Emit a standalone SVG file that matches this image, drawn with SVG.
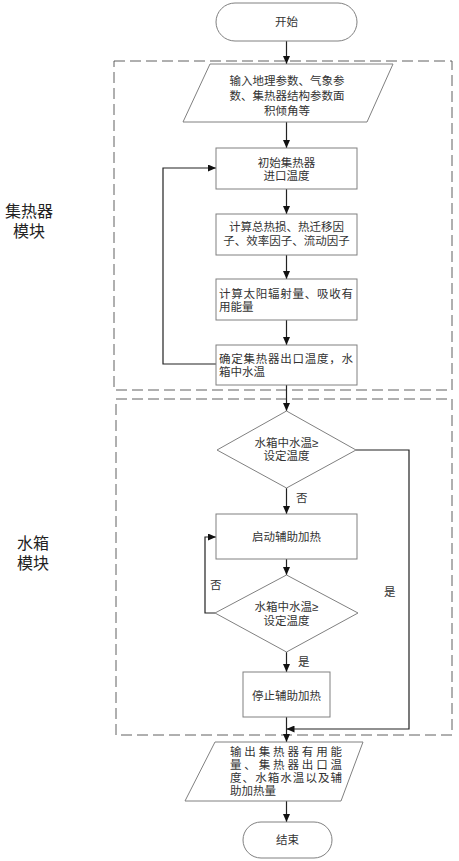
<svg xmlns="http://www.w3.org/2000/svg" width="459" height="861" viewBox="0 0 459 861">
<style>
.box{fill:#fff;stroke:#808080;stroke-width:1}
.t{font-family:"Liberation Sans","Noto Sans CJK SC",sans-serif;font-size:11.5px;fill:#333}
.c{text-anchor:middle}
.side{font-family:"Liberation Sans","Noto Sans CJK SC",sans-serif;font-size:16px;fill:#222}
.dash{fill:none;stroke:#606060;stroke-width:1;stroke-dasharray:11 5}
.ln{fill:none;stroke:#222;stroke-width:1.2}
</style>
<defs>
<marker id="ah" markerUnits="userSpaceOnUse" markerWidth="8" markerHeight="7" refX="8" refY="3.5" orient="auto">
<path d="M0,0 L8,3.5 L0,7 z" fill="#111"/>
</marker>
</defs>
<rect x="0" y="0" width="459" height="861" fill="#fff"/>
<g id="modules">
<rect class="dash" x="114" y="61" width="338" height="329"/>
<rect class="dash" x="116" y="399" width="336" height="336"/>
<text class="side" x="29" y="217" text-anchor="middle">集热器</text>
<text class="side" x="29" y="237" text-anchor="middle">模块</text>
<text class="side" x="17" y="549">水箱</text>
<text class="side" x="17" y="569">模块</text>
</g>
<g id="connectors">
<path class="ln" d="M286.5,41 V64" marker-end="url(#ah)"/>
<path class="ln" d="M286.5,122 V148" marker-end="url(#ah)"/>
<path class="ln" d="M286.5,189 V214" marker-end="url(#ah)"/>
<path class="ln" d="M286.5,255 V279" marker-end="url(#ah)"/>
<path class="ln" d="M286.5,320 V345" marker-end="url(#ah)"/>
<path class="ln" d="M286.5,385 V411" marker-end="url(#ah)"/>
<path class="ln" d="M286.5,488 V514" marker-end="url(#ah)"/>
<path class="ln" d="M286.5,559 V575" marker-end="url(#ah)"/>
<path class="ln" d="M286.5,652 V672" marker-end="url(#ah)"/>
<path class="ln" d="M286.5,717 V742" marker-end="url(#ah)"/>
<path class="ln" d="M286.5,801 V822" marker-end="url(#ah)"/>
<path class="ln" d="M216,364 H163 V168 H216" marker-end="url(#ah)"/>
<path class="ln" d="M215,613 H205 V537 H216" marker-end="url(#ah)"/>
<path class="ln" d="M356,450 H409 V729 H286.5" marker-end="url(#ah)"/>
<text class="t" x="296" y="502">否</text>
<text class="t" x="210" y="589">否</text>
<text class="t" x="298" y="666">是</text>
<text class="t" x="384" y="596">是</text>
</g>
<g id="start">
<rect class="box" x="216" y="3" width="141" height="38" rx="19" ry="19"/>
<text class="t c" x="286.5" y="26">开始</text>
</g>
<g id="input">
<polygon class="box" points="210,64 393,64 367,122 183,122"/>
<text class="t c" x="287" y="85">输入地理参数、气象参</text>
<text class="t c" x="287" y="100">数、集热器结构参数面</text>
<text class="t c" x="287" y="115">积倾角等</text>
</g>
<g id="init">
<rect class="box" x="216" y="148" width="141" height="41"/>
<text class="t c" x="286.5" y="167">初始集热器</text>
<text class="t c" x="286.5" y="180">进口温度</text>
</g>
<g id="calc1">
<rect class="box" x="216" y="214" width="141" height="41"/>
<text class="t c" x="286.5" y="231">计算总热损、热迁移因</text>
<text class="t c" x="286.5" y="245">子、效率因子、流动因子</text>
</g>
<g id="calc2">
<rect class="box" x="216" y="279" width="141" height="41"/>
<text class="t" x="219" y="298" textLength="134" lengthAdjust="spacing">计算太阳辐射量、吸收有</text>
<text class="t" x="219" y="311">用能量</text>
</g>
<g id="outlet">
<rect class="box" x="216" y="345" width="141" height="40"/>
<text class="t" x="219" y="363" textLength="134" lengthAdjust="spacing">确定集热器出口温度，水</text>
<text class="t" x="219" y="376">箱中水温</text>
</g>
<g id="dec1">
<polygon class="box" points="286.5,411 356,450 286.5,488 217,450"/>
<text class="t c" x="286.5" y="447">水箱中水温≥</text>
<text class="t c" x="286.5" y="460">设定温度</text>
</g>
<g id="heaton">
<rect class="box" x="216" y="514" width="141" height="45"/>
<text class="t c" x="286.5" y="541">启动辅助加热</text>
</g>
<g id="dec2">
<polygon class="box" points="286.5,575 358,613 286.5,652 215,613"/>
<text class="t c" x="286.5" y="611">水箱中水温≥</text>
<text class="t c" x="286.5" y="625">设定温度</text>
</g>
<g id="heatoff">
<rect class="box" x="243" y="672" width="87" height="45"/>
<text class="t c" x="286.5" y="700">停止辅助加热</text>
</g>
<g id="output">
<polygon class="box" points="215,742 363,742 341,801 185,801"/>
<text class="t" x="230" y="756" textLength="112" lengthAdjust="spacing">输出集热器有用能</text>
<text class="t" x="230" y="769" textLength="112" lengthAdjust="spacing">量、集热器出口温</text>
<text class="t" x="230" y="782" textLength="112" lengthAdjust="spacing">度、水箱水温以及辅</text>
<text class="t" x="230" y="795">助加热量</text>
</g>
<g id="end">
<rect class="box" x="243" y="822" width="89" height="36" rx="18" ry="18"/>
<text class="t c" x="287.5" y="844">结束</text>
</g>
</svg>
